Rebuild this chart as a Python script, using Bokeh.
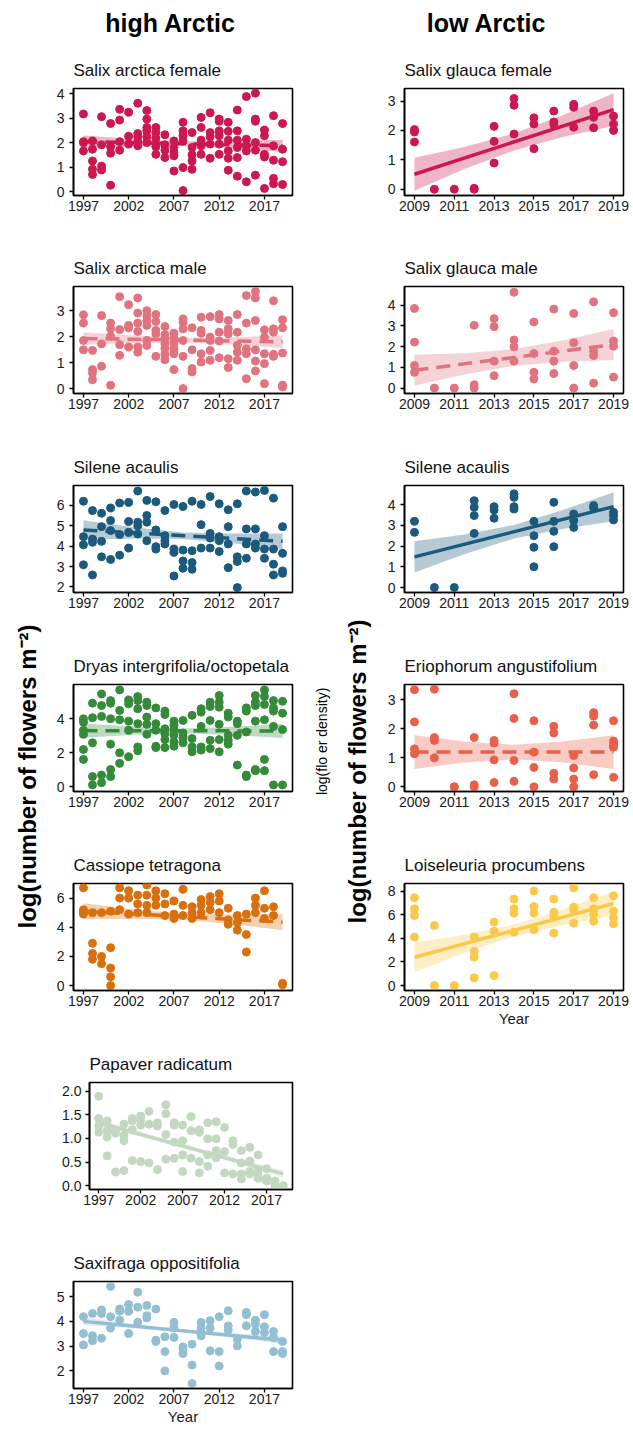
import math
from bokeh.plotting import figure
from bokeh.layouts import row, column
from bokeh.models import Range1d, FixedTicker, NumeralTickFormatter, Spacer
from bokeh.embed import file_html
from bokeh.resources import INLINE
from bokeh.core.properties import value

FONT = "Liberation Sans"

# ---------------- data ----------------
years_high = list(range(1997, 2020))
years_low = list(range(2009, 2020))
xticks_high = [1997, 2002, 2007, 2012, 2017]
xticks_low = [2009, 2011, 2013, 2015, 2017, 2019]
band_x_high = [1997, 2002.5, 2008, 2013.5, 2019]
band_x_low = [2009, 2011.5, 2014, 2016.5, 2019]

# Salix arctica female (high Arctic)
saf_vals = [
    [3.18, 2.05, 1.67, 2.0], [2.08, 1.74, 1.26, 0.92, 0.71], [3.07, 1.92, 1.05, 0.89],
    [2.79, 1.84, 1.58, 0.27], [3.37, 2.93, 2.05, 1.70], [3.25, 2.27, 1.95],
    [3.62, 2.38, 2.25, 2.05, 1.88], [3.32, 2.97, 2.63, 2.49, 2.25, 2.01],
    [2.63, 2.42, 2.19, 1.84, 1.53], [2.33, 1.92, 1.70, 1.40], [2.08, 1.81, 1.60, 1.47, 0.85],
    [2.84, 2.49, 2.29, 2.08, 0.99, 0.05], [2.42, 1.81, 1.51, 1.26, 0.92],
    [3.04, 2.63, 2.11, 1.88, 1.53], [3.23, 2.42, 2.25, 1.95, 1.37],
    [2.97, 2.88, 2.49, 2.29, 1.95, 1.53], [2.84, 2.47, 2.11, 1.67, 1.37, 0.88],
    [3.34, 2.49, 2.11, 1.81, 1.40, 0.64], [3.89, 2.15, 1.88, 1.67, 0.41],
    [4.03, 2.97, 2.88, 2.01, 1.70, 0.68], [2.52, 2.29, 1.53, 1.42, 0.14],
    [3.11, 1.88, 1.29, 0.55, 0.33], [2.79, 1.74, 1.23, 0.30]]
saf_fit = [2.05, 1.88]
saf_lo = [1.80, 1.86, 1.875, 1.775, 1.63]
saf_hi = [2.30, 2.155, 2.055, 2.07, 2.13]

# Salix arctica male
sam_vals = [
    [2.84, 2.52, 1.85, 1.49], [1.47, 0.73, 0.60, 0.34], [2.81, 1.72, 0.86],
    [2.52, 2.30, 2.01, 0.13], [3.54, 2.27, 1.69, 1.28], [3.23, 2.43, 2.34, 1.60],
    [3.49, 2.91, 2.52, 2.20, 1.60, 1.40], [3.00, 2.81, 2.62, 2.43, 1.85, 1.66],
    [2.85, 2.58, 2.24, 2.11, 1.24], [2.39, 2.08, 1.92, 1.72, 1.53, 1.32, 1.11],
    [2.13, 1.95, 1.75, 1.53, 1.34, 0.73], [2.68, 2.55, 2.30, 1.85, 1.24, 0.00],
    [2.34, 1.49, 0.77, 0.64], [2.75, 2.24, 2.13, 1.34, 1.02], [2.77, 1.98, 1.85, 1.47, 1.09],
    [2.85, 2.68, 2.17, 1.83, 1.19], [2.62, 2.30, 2.11, 1.15, 0.81], [2.85, 2.17, 1.66, 1.40, 1.09],
    [3.58, 2.52, 1.53, 1.34, 0.38], [3.74, 3.49, 2.62, 1.49, 1.06, 0.68],
    [2.26, 1.98, 1.34, 0.96, 0.19], [3.38, 2.30, 2.17, 1.32, 1.24], [2.65, 2.34, 1.37, 0.13, 0.06]]
sam_fit = [1.93, 1.80]
sam_lo = [1.69, 1.755, 1.775, 1.69, 1.56]
sam_hi = [2.17, 2.04, 1.955, 1.975, 2.04]

# Silene acaulis (high Arctic)
silh_vals = [
    [6.21, 4.47, 4.07, 3.09], [5.75, 4.35, 4.19, 2.59], [5.62, 4.96, 4.24, 3.48],
    [5.88, 5.26, 4.77, 3.35], [6.12, 4.57, 3.56], [6.15, 5.21, 4.68, 3.91],
    [6.71, 5.18, 5.01, 4.60], [6.25, 5.51, 5.18, 4.27], [6.18, 4.80, 3.98, 3.86],
    [5.75, 4.52, 4.27, 4.11], [6.05, 3.86, 3.70, 2.54], [5.95, 3.81, 3.28, 2.92],
    [6.21, 3.78, 3.20, 2.87], [6.05, 5.06, 3.91], [6.44, 4.63, 4.40, 3.91],
    [6.08, 4.47, 4.27, 3.74], [5.79, 4.96, 4.11, 2.95], [6.08, 3.48, 3.25, 1.97],
    [6.71, 4.85, 4.11, 3.41], [6.66, 4.85, 4.11, 3.91], [6.74, 4.52, 3.86, 3.41],
    [6.36, 3.86, 3.12, 2.59], [4.96, 3.65, 2.79, 2.67]]
silh_fit = [4.80, 4.24]
silh_lo = [4.32, 4.383, 4.36, 4.141, 3.85]
silh_hi = [5.28, 4.937, 4.68, 4.619, 4.63]

# Dryas integrifolia/octopetala
dry_vals = [
    [4.00, 3.80, 3.32, 3.08, 2.19, 1.60], [4.92, 4.06, 2.58, 0.59, 0.10],
    [5.46, 4.78, 4.14, 0.68, 0.23], [5.07, 4.92, 4.00, 2.50, 1.01, 0.59],
    [5.70, 4.49, 3.94, 1.99, 1.37], [5.11, 4.88, 3.86, 3.32, 1.76],
    [5.31, 5.07, 4.59, 3.71, 2.34, 2.11], [4.98, 4.78, 4.10, 3.67, 3.08],
    [4.64, 3.71, 3.32, 2.38, 2.30], [4.45, 4.25, 3.41, 3.12, 2.77, 2.30],
    [3.86, 3.61, 3.32, 3.02, 2.63, 2.38], [3.90, 3.16, 2.89, 2.58],
    [4.20, 2.83, 2.34, 2.05], [4.59, 4.39, 3.55, 2.34, 2.15],
    [4.98, 4.72, 3.90, 2.73, 2.24], [5.37, 4.98, 4.68, 3.67, 2.77, 2.05],
    [4.33, 4.10, 3.02, 2.73, 2.50], [3.86, 3.71, 3.02, 1.27],
    [4.64, 4.45, 3.22, 0.68, 0.59], [5.37, 4.98, 4.78, 3.86, 1.01, 0.94],
    [5.70, 5.31, 4.84, 3.94, 1.60, 0.94], [5.07, 4.64, 4.45, 3.55, 0.10],
    [5.03, 4.33, 3.36, 0.10]]
dry_fit = [3.30, 3.28]
dry_lo = [2.88, 3.05, 3.15, 3.04, 2.86]
dry_hi = [3.72, 3.54, 3.43, 3.53, 3.70]

# Cassiope tetragona
cas_vals = [
    [6.7, 5.2, 5.0, 4.9], [5.0, 2.9, 2.2, 1.8], [5.0, 2.0, 1.5], [5.1, 2.6, 1.2, 0.6, 0.0],
    [6.7, 6.0, 5.2], [6.5, 6.0, 4.9], [6.2, 5.6, 5.0], [6.9, 6.2, 5.5, 5.0],
    [6.5, 6.0, 5.5], [6.3, 5.6, 4.8], [5.8, 4.9, 4.6], [6.6, 5.5, 4.8], [5.4, 5.0, 4.6],
    [5.9, 5.5, 5.0], [6.1, 5.7, 5.2], [6.3, 5.8, 5.0], [5.3, 4.5, 4.2], [4.8, 4.3, 3.8],
    [4.9, 3.5, 2.3], [6.0, 5.5, 5.0], [6.5, 5.3, 4.6], [5.4, 4.8], [0.15, 0.05]]
cas_fit = [5.10, 4.35]
cas_lo = [4.55, 4.59, 4.525, 4.21, 3.80]
cas_hi = [5.65, 5.24, 4.925, 4.86, 4.90]

# Papaver radicatum
pap_vals = [
    [1.89, 1.42, 1.26, 1.13], [1.37, 1.16, 1.03, 0.63], [1.16, 1.11, 0.29],
    [1.30, 1.06, 0.95, 0.32], [1.42, 1.37, 1.18, 0.53], [1.47, 1.39, 1.28, 0.51],
    [1.57, 1.30, 0.48], [1.33, 1.26, 0.34], [1.71, 1.52, 1.08, 0.56],
    [1.33, 1.28, 0.92, 0.58], [1.28, 0.95, 0.65, 0.30], [1.46, 1.16, 0.58],
    [1.18, 1.13, 0.51, 0.27], [1.33, 0.99, 0.65, 0.41], [1.35, 0.99, 0.74, 0.66, 0.59],
    [1.23, 0.72, 0.27], [0.95, 0.87, 0.25], [0.74, 0.48, 0.25, 0.14],
    [0.81, 0.52, 0.30, 0.25], [0.65, 0.34, 0.23, 0.16], [0.36, 0.16, 0.10],
    [0.10, 0.05, 0.0], [0.0]]
pap_fit = [1.33, 0.25]
pap_lo = [1.25, 1.01, 0.755, 0.47, 0.17]
pap_hi = [1.41, 1.11, 0.825, 0.57, 0.33]

# Saxifraga oppositifolia
sax_vals = [
    [4.19, 3.51, 3.05], [4.32, 3.42, 3.22], [4.46, 4.32, 3.32], [5.41, 4.19, 3.73],
    [4.50, 4.41, 4.05], [4.68, 4.41, 3.51], [5.18, 4.57, 3.96], [4.64, 4.23, 4.14],
    [4.50, 3.24, 3.19], [3.38, 2.78, 2.00], [3.96, 3.73, 3.35], [2.97, 2.88, 2.70],
    [3.08, 2.24, 1.49], [3.96, 3.73, 3.42], [4.03, 3.73, 2.81], [4.19, 2.78, 2.20],
    [4.43, 3.82, 3.65], [3.28, 3.01], [4.36, 4.27, 3.82], [4.05, 3.89, 3.59],
    [4.27, 3.78, 3.55], [3.59, 3.35, 2.78], [3.19, 2.78, 2.70]]
sax_fit = [4.00, 3.24]
sax_lo = [3.85, 3.72, 3.56, 3.34, 3.09]
sax_hi = [4.15, 3.90, 3.68, 3.52, 3.39]

# Salix glauca female (low Arctic)
sgf_vals = [
    [2.03, 1.95, 1.61], [0.0], [0.0], [0.03, 0.0], [2.14, 1.63, 0.89], [3.09, 2.86, 1.88],
    [2.43, 2.22, 1.38], [2.66, 2.29, 2.20], [2.89, 2.79, 2.11], [2.66, 2.45, 2.09],
    [2.49, 2.22, 2.00]]
sgf_fit = [0.51, 2.71]
sgf_lo = [-0.05, 0.684, 1.32, 1.784, 2.155]
sgf_hi = [1.07, 1.436, 1.90, 2.536, 3.265]

# Salix glauca male
sgm_vals = [
    [3.84, 2.22, 1.09, 0.76], [0.0], [0.0], [3.03, 0.16, 0.0], [3.35, 2.96, 1.30, 0.60],
    [4.62, 2.32, 1.99, 1.30], [3.19, 1.67, 0.76, 0.44], [3.81, 1.78, 1.30, 0.70],
    [3.60, 2.19, 1.09, 0.0], [4.16, 1.78, 1.57, 0.24], [3.64, 2.27, 2.02, 0.53]]
sgm_fit = [0.86, 2.10]
sgm_lo = [0.11, 0.656, 1.08, 1.276, 1.35]
sgm_hi = [1.61, 1.684, 1.88, 2.304, 2.85]

# Silene acaulis (low Arctic)
sill_vals = [
    [3.19, 2.66], [0.0], [0.0], [4.19, 3.87, 3.47, 2.61], [3.90, 3.74, 3.34],
    [4.52, 4.35, 3.90, 3.79], [3.19, 2.50, 1.94, 1.00], [4.11, 3.19, 2.71, 1.97],
    [3.55, 3.23, 2.90], [3.95, 3.84], [3.63, 3.47, 3.26]]
sill_fit = [1.48, 3.90]
sill_lo = [0.73, 1.61, 2.36, 2.84, 3.20]
sill_hi = [2.23, 2.56, 3.02, 3.75, 4.60]

# Eriophorum angustifolium
eri_vals = [
    [3.35, 2.24, 1.31, 1.14], [3.37, 1.70, 1.60, 1.00], [0.0, 0.0], [1.70, 0.07, 0.0],
    [1.60, 1.51, 0.93, 0.15], [3.21, 2.36, 0.91, 0.19], [2.28, 1.20, 0.67, 0.0],
    [2.09, 1.86, 0.47, 0.27], [1.08, 0.65, 0.27, 0.0], [2.56, 2.44, 2.13, 0.42],
    [2.28, 1.58, 1.47, 1.37, 0.33]]
eri_fit = [1.20, 1.20]
eri_lo = [0.62, 0.84, 0.95, 0.84, 0.62]
eri_hi = [1.78, 1.56, 1.45, 1.56, 1.78]

# Loiseleuria procumbens
loi_vals = [
    [7.43, 6.50, 5.93, 4.10], [5.08, 0.0], [0.0], [4.10, 2.91, 2.40, 0.65],
    [5.37, 4.60, 0.85], [7.32, 6.50, 6.13, 4.52], [8.00, 6.69, 6.13, 4.72],
    [7.32, 6.21, 5.79, 4.44], [8.25, 6.64, 6.41, 5.28], [7.43, 6.50, 6.02, 5.45],
    [7.60, 6.30, 5.73, 5.23]]
loi_fit = [2.40, 6.95]
loi_lo = [1.15, 2.77, 4.16, 5.13, 5.95]
loi_hi = [3.65, 4.29, 5.16, 6.45, 7.95]

# ---------------- styling helpers ----------------
C_CRIMSON = "#CB1850"
C_PINK = "#E0737F"
C_BLUE = "#1C5A7D"
C_GREEN = "#348B3A"
C_ORANGE = "#D8700F"
C_PALEGREEN = "#C3D8C0"
C_LIGHTBLUE = "#94BFD2"
C_RED = "#E8604A"
C_YELLOW = "#FBC94A"

XR_HIGH = (1995.9, 2020.1)
XR_LOW = (2008.5, 2019.5)
TOP = 39
FRAME_H = 107


def panel(title, years, vals, fit, lo, hi, bx, color, dashed, yr, yt, xr, xt,
          w, h, mbl, mbr, mbb, xlabel=None, yfmt=None):
    p = figure(width=w, height=h, x_range=Range1d(*xr), y_range=Range1d(*yr),
               output_backend="svg", toolbar_location=None,
               min_border_left=mbl, min_border_right=mbr,
               min_border_top=TOP, min_border_bottom=mbb, title=title)
    p.title.text_font = FONT
    p.title.text_font_size = "17px"
    p.title.text_font_style = "normal"
    p.title.text_color = "#111111"
    p.title.align = "left"
    p.title.standoff = 18
    xs, ys = [], []
    for yv, vs in zip(years, vals):
        for v in vs:
            xs.append(yv)
            ys.append(v)
    p.varea(x=bx, y1=lo, y2=hi, fill_color=color, fill_alpha=0.32)
    p.scatter(xs, ys, size=8, fill_color=color, line_color=color)
    p.line([years[0], years[-1]], fit, line_width=3.5, line_color=color,
           line_dash="14 8" if dashed else "solid")
    p.xgrid.visible = False
    p.ygrid.visible = False
    p.outline_line_color = "black"
    p.outline_line_width = 1.6
    p.background_fill_color = "white"
    for ax in (p.xaxis[0], p.yaxis[0]):
        ax.axis_line_width = 1.6
        ax.axis_line_color = "black"
        ax.major_tick_out = 4
        ax.major_tick_in = 0
        ax.minor_tick_out = 0
        ax.minor_tick_in = 0
        ax.major_tick_line_color = "black"
        ax.major_tick_line_width = 1.3
        ax.major_label_text_font = FONT
        ax.major_label_text_font_size = "14px"
        ax.major_label_text_color = "#1a1a1a"
    p.xaxis.ticker = FixedTicker(ticks=xt)
    p.yaxis.ticker = FixedTicker(ticks=yt)
    p.xaxis.major_label_standoff = 1
    p.yaxis.major_label_standoff = 5
    if yfmt:
        p.yaxis.formatter = NumeralTickFormatter(format=yfmt)
        p.yaxis.major_label_standoff = 4
    if xlabel:
        p.xaxis.axis_label = xlabel
        p.xaxis.axis_label_text_font = FONT
        p.xaxis.axis_label_text_font_size = "15px"
        p.xaxis.axis_label_text_font_style = "normal"
        p.xaxis.axis_label_text_color = "#1a1a1a"
        p.xaxis.axis_label_standoff = 1
    return p


def textfig(w, h, xr, yr, mbl=0, mbr=0):
    p = figure(width=w, height=h, x_range=Range1d(*xr), y_range=Range1d(*yr),
               output_backend="svg", toolbar_location=None, min_border=0,
               min_border_left=mbl, min_border_right=mbr,
               x_axis_location=None, y_axis_location=None)
    p.xgrid.visible = False
    p.ygrid.visible = False
    p.outline_line_color = None
    return p


LAB_W = 46
LW, RW = 254, 255
MID_W = 78
L_MBL, L_MBR = 27, 8      # left frames at x 73..292
R_MBL, R_MBR = 26, 10     # right frames at x 404..623
HEAD_H = 49
TOTAL_H = 1428

# ---------------- left column ----------------
lh = textfig(LW, HEAD_H, (LAB_W + L_MBL, LAB_W + LW - L_MBR), (0, HEAD_H), L_MBL, L_MBR)
lh.text(x=[170], y=[HEAD_H - 22], text=["high Arctic"], text_font=value(FONT),
        text_font_size="25px", text_font_style="bold", text_align="center",
        text_baseline="middle", text_color="black")

p1 = panel("Salix arctica female", years_high, saf_vals, saf_fit, saf_lo, saf_hi, band_x_high,
           C_CRIMSON, True, (-0.15, 4.22), [0, 1, 2, 3, 4], XR_HIGH, xticks_high,
           LW, 198, L_MBL, L_MBR, 198 - TOP - FRAME_H)
p2 = panel("Salix arctica male", years_high, sam_vals, sam_fit, sam_lo, sam_hi, band_x_high,
           C_PINK, True, (-0.19, 3.93), [0, 1, 2, 3], XR_HIGH, xticks_high,
           LW, 199, L_MBL, L_MBR, 199 - TOP - FRAME_H)
p3 = panel("Silene acaulis", years_high, silh_vals, silh_fit, silh_lo, silh_hi, band_x_high,
           C_BLUE, True, (1.73, 6.98), [2, 3, 4, 5, 6], XR_HIGH, xticks_high,
           LW, 199, L_MBL, L_MBR, 199 - TOP - FRAME_H)
p4 = panel("Dryas intergrifolia/octopetala", years_high, dry_vals, dry_fit, dry_lo, dry_hi,
           band_x_high, C_GREEN, True, (-0.29, 6.02), [0, 2, 4], XR_HIGH, xticks_high,
           LW, 199, L_MBL, L_MBR, 199 - TOP - FRAME_H)
p5 = panel("Cassiope tetragona", years_high, cas_vals, cas_fit, cas_lo, cas_hi, band_x_high,
           C_ORANGE, True, (-0.34, 7.0), [0, 2, 4, 6], XR_HIGH, xticks_high,
           LW, 199, L_MBL, L_MBR, 199 - TOP - FRAME_H)
PAP_SHIFT = 13
p6 = panel("Papaver radicatum", years_high, pap_vals, pap_fit, pap_lo, pap_hi, band_x_high,
           C_PALEGREEN, False, (-0.08, 2.18), [0, 0.5, 1.0, 1.5, 2.0], XR_HIGH, xticks_high,
           LW - PAP_SHIFT, 199, L_MBL, L_MBR, 199 - TOP - FRAME_H, yfmt="0.0")
p6_row = row(Spacer(width=PAP_SHIFT, height=199), p6, spacing=0)
p7 = panel("Saxifraga oppositifolia", years_high, sax_vals, sax_fit, sax_lo, sax_hi, band_x_high,
           C_LIGHTBLUE, False, (1.29, 5.61), [2, 3, 4, 5], XR_HIGH, xticks_high,
           LW, 186, L_MBL, L_MBR, 186 - TOP - FRAME_H, xlabel="Year")
left_col = column(lh, p1, p2, p3, p4, p5, p6_row, p7, spacing=0)

# ---------------- right column ----------------
RX0 = LAB_W + LW + MID_W
rh = textfig(RW, HEAD_H, (RX0 + R_MBL, RX0 + RW - R_MBR), (0, HEAD_H), R_MBL, R_MBR)
rh.text(x=[486], y=[HEAD_H - 22], text=["low Arctic"], text_font=value(FONT),
        text_font_size="25px", text_font_style="bold", text_align="center",
        text_baseline="middle", text_color="black")

r1 = panel("Salix glauca female", years_low, sgf_vals, sgf_fit, sgf_lo, sgf_hi, band_x_low,
           C_CRIMSON, False, (-0.215, 3.43), [0, 1, 2, 3], XR_LOW, xticks_low,
           RW, 198, R_MBL, R_MBR, 198 - TOP - FRAME_H)
r2 = panel("Salix glauca male", years_low, sgm_vals, sgm_fit, sgm_lo, sgm_hi, band_x_low,
           C_PINK, True, (-0.26, 4.9), [0, 1, 2, 3, 4], XR_LOW, xticks_low,
           RW, 199, R_MBL, R_MBR, 199 - TOP - FRAME_H)
r3 = panel("Silene acaulis", years_low, sill_vals, sill_fit, sill_lo, sill_hi, band_x_low,
           C_BLUE, False, (-0.24, 4.92), [0, 1, 2, 3, 4], XR_LOW, xticks_low,
           RW, 199, R_MBL, R_MBR, 199 - TOP - FRAME_H)
r4 = panel("Eriophorum angustifolium", years_low, eri_vals, eri_fit, eri_lo, eri_hi, band_x_low,
           C_RED, True, (-0.16, 3.53), [0, 1, 2, 3], XR_LOW, xticks_low,
           RW, 199, R_MBL, R_MBR, 199 - TOP - FRAME_H)
r5 = panel("Loiseleuria procumbens", years_low, loi_vals, loi_fit, loi_lo, loi_hi, band_x_low,
           C_YELLOW, False, (-0.42, 8.64), [0, 2, 4, 6, 8], XR_LOW, xticks_low,
           RW, 191, R_MBL, R_MBR, 191 - TOP - FRAME_H, xlabel="Year")
right_col = column(rh, r1, r2, r3, r4, r5, spacing=0)

# ---------------- shared labels ----------------
ylab = "log(number of flowers m\u207b\u00b2)"
left_lab = textfig(LAB_W, TOTAL_H, (0, LAB_W), (0, TOTAL_H))
left_lab.text(x=[27], y=[TOTAL_H - 776], text=[ylab], text_font=value(FONT),
              text_font_size="24px", text_font_style="bold", angle=math.pi / 2,
              text_align="center", text_baseline="middle", text_color="black")

MX0 = LAB_W + LW
mid = textfig(MID_W, TOTAL_H, (MX0, MX0 + MID_W), (0, TOTAL_H))
mid.text(x=[321], y=[TOTAL_H - 737], text=["log(flo   er density)"], text_font=value(FONT),
         text_font_size="14px", angle=math.pi / 2, text_align="center",
         text_baseline="middle", text_color="black")
mid.text(x=[357], y=[TOTAL_H - 771], text=[ylab], text_font=value(FONT), text_font_size="24px",
         text_font_style="bold", angle=math.pi / 2, text_align="center",
         text_baseline="middle", text_color="black")

layout = row(left_lab, left_col, mid, right_col, spacing=0)

open("out.html", "w").write(file_html(layout, INLINE))
